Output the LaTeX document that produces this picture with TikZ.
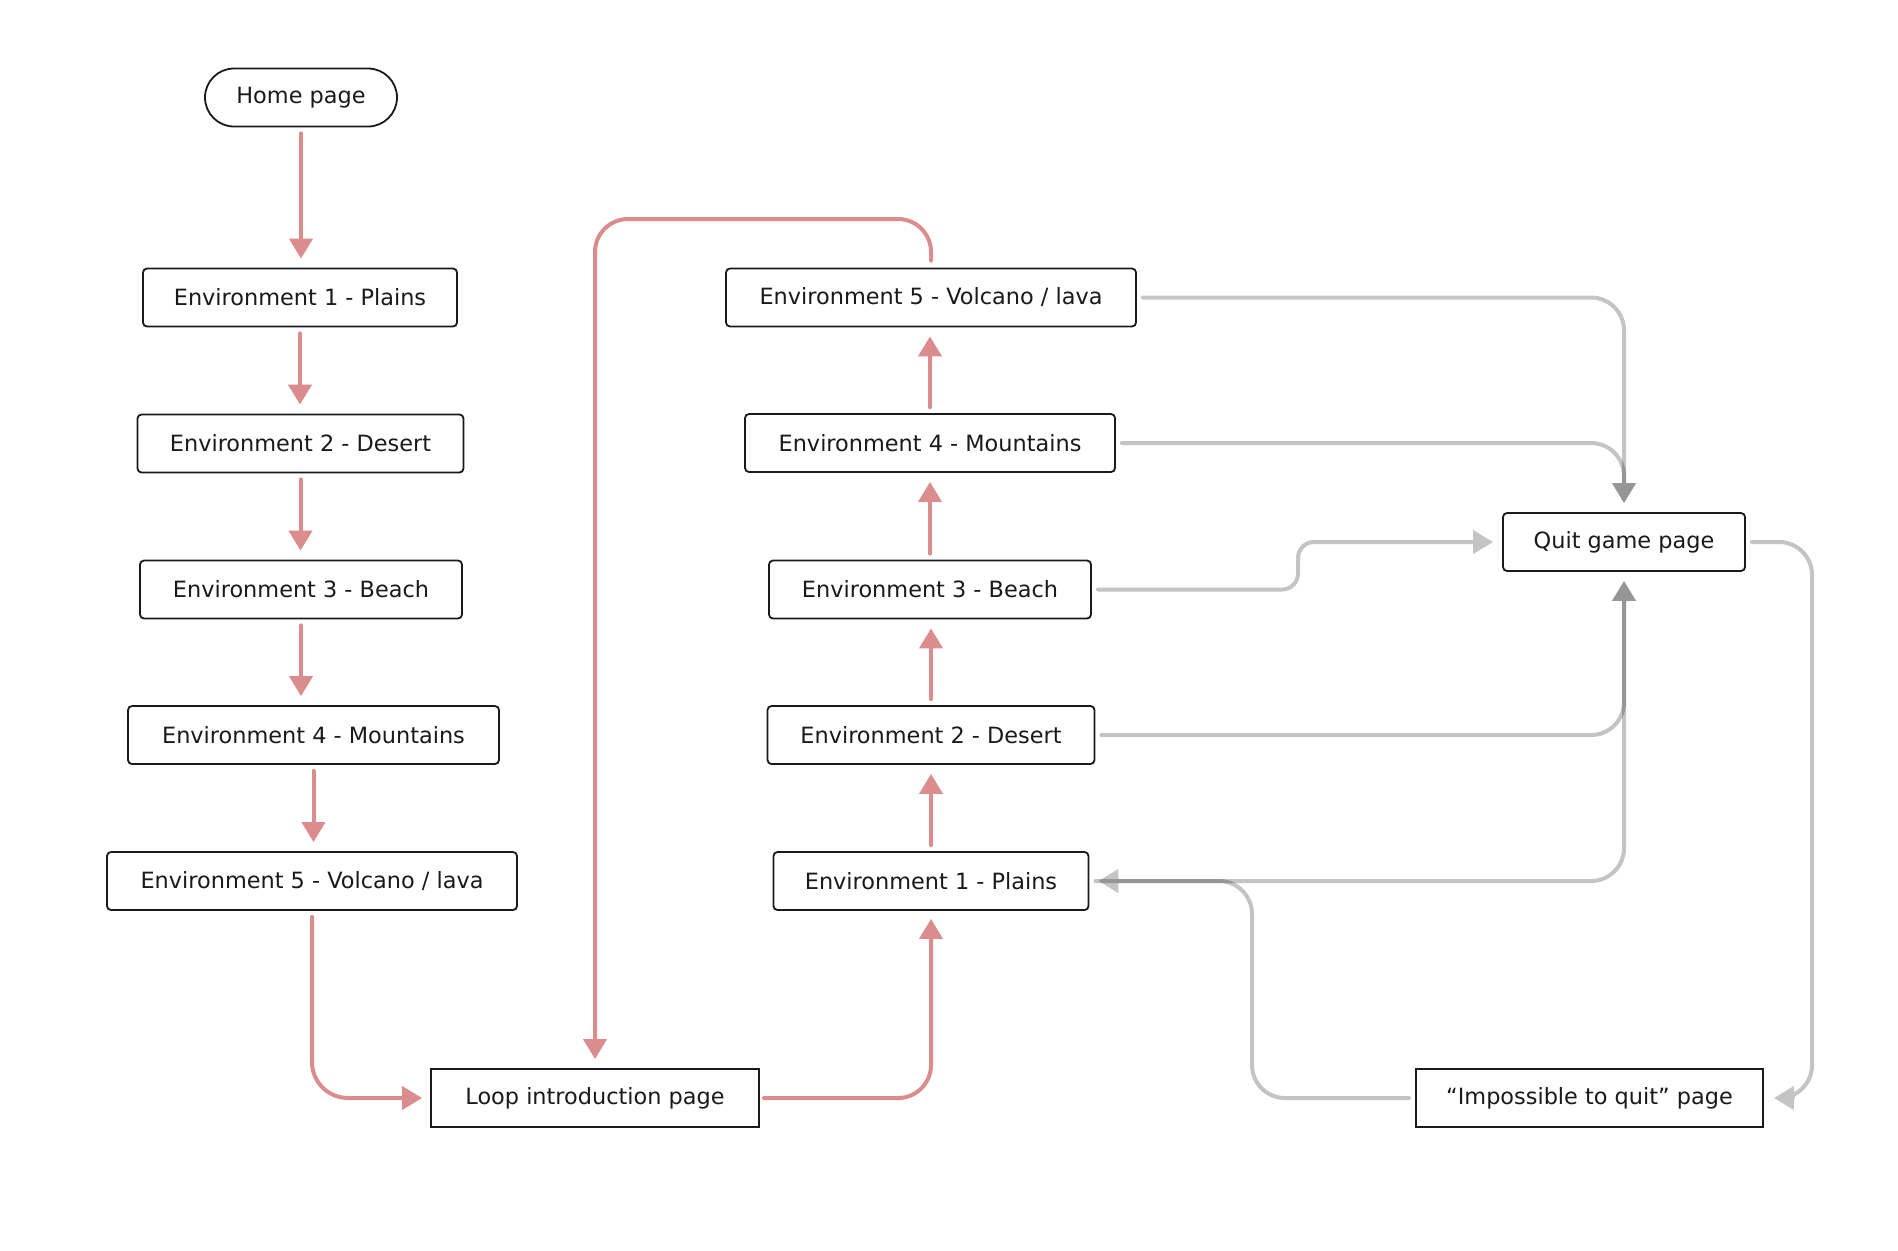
\documentclass[tikz,border=0pt]{standalone}
\usepackage{fontspec}
\setmainfont{DejaVu Sans}
\usetikzlibrary{arrows.meta}
\definecolor{redl}{HTML}{DB8D8D}
\definecolor{grayl}{HTML}{C4C4C4}
\definecolor{boxc}{HTML}{1A1A1A}
\begin{document}
\begin{tikzpicture}[x=0.5pt,y=-0.5pt,
  box/.style={draw=boxc, line width=0.9pt, rounded corners=2pt, minimum height=29pt,
    inner sep=0pt, font=\fontsize{11.2}{13}\selectfont, text=boxc},
  sharpbox/.style={box, sharp corners},
  conn/.style={line width=2pt, line cap=round, rounded corners=16.5pt,
    -{Triangle[length=10pt,width=11.5pt]}, shorten <=3pt, shorten >=4.5pt},
  redarrow/.style={conn, draw=redl},
  grayarrow/.style={conn, draw=grayl}]
\fill[white] (0,0) rectangle (1898,1250);

% left column
\node[box, minimum width=96pt, rounded corners=14.5pt] (home) at (301,97.5) {Home page};
\node[box, minimum width=157pt] (l1) at (300,297.5) {Environment 1 - Plains};
\node[box, minimum width=163pt] (l2) at (300.5,443.5) {Environment 2 - Desert};
\node[box, minimum width=161pt] (l3) at (301,589.5) {Environment 3 - Beach};
\node[box, minimum width=185.5pt] (l4) at (313.5,735) {Environment 4 - Mountains};
\node[box, minimum width=205pt] (l5) at (312,881) {Environment 5 - Volcano / lava};

% loop
\node[sharpbox, minimum width=164pt] (loop) at (595,1098) {Loop introduction page};

% middle column
\node[box, minimum width=205pt] (m5) at (931,297.5) {Environment 5 - Volcano / lava};
\node[box, minimum width=185pt] (m4) at (930,443) {Environment 4 - Mountains};
\node[box, minimum width=161pt] (m3) at (930,589.5) {Environment 3 - Beach};
\node[box, minimum width=163.5pt] (m2) at (931,735) {Environment 2 - Desert};
\node[box, minimum width=157.5pt] (m1) at (931,881) {Environment 1 - Plains};

% right
\node[box, minimum width=121pt] (quit) at (1624,542) {Quit game page};
\node[sharpbox, minimum width=173.5pt] (imp) at (1589.5,1098) {“Impossible to quit” page};

% red connectors
\draw[redarrow] (home.south) -- (home.south |- l1.north);
\draw[redarrow] (l1.south) -- (l1.south |- l2.north);
\draw[redarrow] (l2.south) -- (l2.south |- l3.north);
\draw[redarrow] (l3.south) -- (l3.south |- l4.north);
\draw[redarrow] (l4.south) -- (l4.south |- l5.north);
\draw[redarrow, rounded corners=18pt, shorten >=4pt] (l5.south) |- (loop.west);
\draw[redarrow, shorten <=2pt, shorten >=4pt] (loop.east) -| (m1.south);
\draw[redarrow] (m1.north) -- (m1.north |- m2.south);
\draw[redarrow] (m2.north) -- (m2.north |- m3.south);
\draw[redarrow] (m3.north) -- (m3.north |- m4.south);
\draw[redarrow] (m4.north) -- (m4.north |- m5.south);
\draw[redarrow, shorten <=3.5pt] (m5.north) -- (931,219) -| (loop.north);

% gray connectors (each a group, multiplied onto the page so overlaps darken)
\begin{scope}[blend mode=multiply]
\begin{scope}[transparency group]
\draw[grayarrow] (m5.east) -| (quit.north);
\end{scope}
\begin{scope}[transparency group]
\draw[grayarrow] (m4.east) -| (quit.north);
\end{scope}
\begin{scope}[transparency group]
\draw[grayarrow, rounded corners=8pt] (m3.east) -- (1298,589.5) |- (quit.west);
\end{scope}
\begin{scope}[transparency group]
\draw[grayarrow] (m2.east) -| (quit.south);
\end{scope}
\begin{scope}[transparency group]
\draw[grayarrow] (m1.east) -| (quit.south);
\end{scope}
\begin{scope}[transparency group]
\draw[grayarrow, shorten >=5pt] (quit.east) -- (1812,542) |- (imp.east);
\end{scope}
\begin{scope}[transparency group]
\draw[grayarrow] (imp.west) -- (1252,1098) |- (m1.east);
\end{scope}
\end{scope}
\end{tikzpicture}
\end{document}
